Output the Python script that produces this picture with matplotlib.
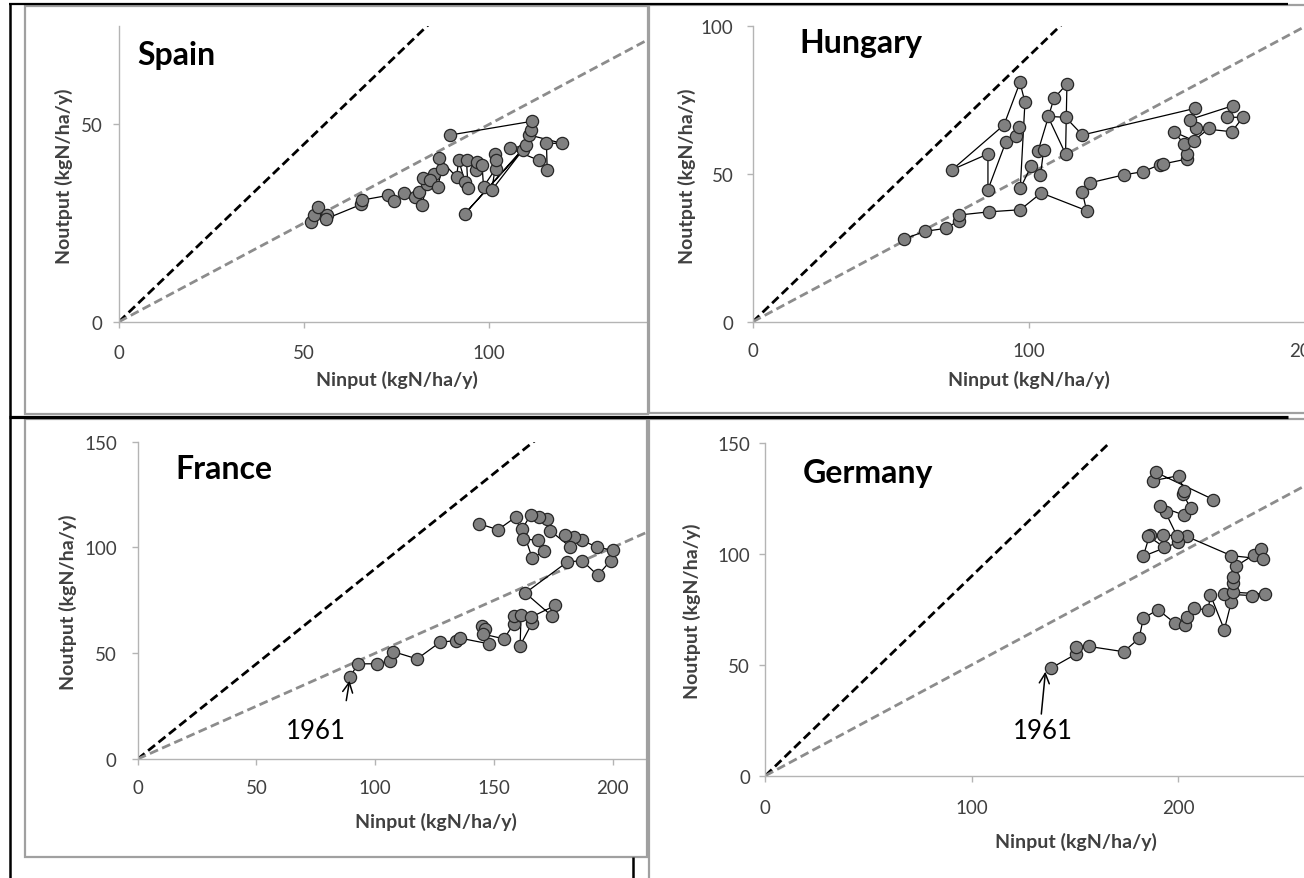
import matplotlib
matplotlib.use('Agg')
import matplotlib.pyplot as plt
from matplotlib.lines import Line2D
from matplotlib.patches import Rectangle

# N input vs N output trajectories, 1961 onwards
spain_x = [52.0, 52.6, 53.9, 56.3, 56.0, 65.4, 65.6, 72.7, 74.2, 77.0, 79.9, 81.0, 81.8,
           83.3, 82.1, 85.0, 83.9, 86.1, 87.3, 86.4, 91.2, 91.8, 93.5, 94.3, 93.9, 96.4,
           96.6, 98.1, 98.5, 101.8, 101.5, 102.0, 100.7, 109.1, 93.5, 110.0, 105.7, 113.4,
           115.7, 115.5, 119.7, 110.9, 111.4, 111.7, 89.5]
spain_y = [25.3, 27.0, 29.0, 27.1, 26.1, 29.7, 30.8, 32.0, 30.5, 32.5, 31.6, 32.9, 29.5,
           35.0, 36.3, 37.5, 35.8, 34.2, 38.8, 41.4, 36.7, 40.9, 35.4, 33.9, 40.9, 38.4,
           40.5, 39.7, 34.2, 38.8, 42.6, 40.9, 33.3, 43.5, 27.4, 44.7, 43.9, 40.9,
           38.4, 45.2, 45.2, 47.3, 48.6, 50.8, 47.3]

hungary_x = [54.7, 62.3, 69.9, 74.5, 74.5, 85.6, 96.8, 104.4, 120.8, 119.3, 122.0, 134.2,
             141.3, 147.4, 148.5, 157.3, 157.0, 156.1, 152.4, 159.6, 165.2, 160.6, 173.4,
             177.4, 171.7, 173.7, 158.1, 160.0, 119.3, 113.2, 106.8, 113.2, 113.7, 109.0,
             103.3, 105.3, 104.1, 100.8, 96.8, 98.5, 96.7, 90.9, 72.2, 85.1, 85.1, 91.6,
             95.3, 96.2]
hungary_y = [28.0, 30.6, 31.6, 34.2, 36.1, 37.2, 37.9, 43.6, 37.6, 43.8, 47.0, 49.7,
             50.8, 53.2, 53.4, 55.1, 56.8, 60.2, 64.3, 61.3, 65.5, 65.6, 64.3,
             69.2, 69.2, 73.1, 68.4, 72.2, 63.2, 69.2, 69.5, 56.8, 80.5, 75.6,
             57.9, 58.2, 49.7, 52.8, 45.1, 74.3, 81.0, 66.6, 51.5, 56.8, 44.7, 60.9,
             62.8, 65.8]

france_x = [89.2, 92.8, 100.9, 106.3, 107.5, 117.6, 127.3, 134.1, 135.9, 148.1, 144.8,
            146.3, 145.2, 154.2, 158.3, 158.3, 161.4, 161.0, 166.1, 165.5, 175.8, 174.5,
            163.2, 180.8, 187.1, 193.7, 199.1, 200.2, 193.4, 187.1, 183.5, 179.9, 182.2,
            173.6, 172.2, 169.1, 165.5, 161.9, 166.1, 170.9, 168.6, 162.4, 159.2, 151.7,
            143.7]
france_y = [38.6, 45.0, 45.0, 46.5, 50.8, 47.3, 55.2, 56.0, 57.1, 54.4, 63.1,
            61.5, 59.1, 56.8, 63.9, 67.8, 68.3, 53.6, 64.4, 67.0, 72.6, 67.5,
            78.5, 93.1, 93.8, 86.8, 93.8, 98.6, 100.2, 103.3, 104.9, 105.7, 100.2,
            108.0, 113.6, 114.4, 115.5, 108.8, 95.0, 98.1, 103.3, 104.1, 114.4, 108.4,
            111.2]

germany_x = [138.4, 150.6, 150.6, 156.7, 173.6, 181.1, 183.1, 190.2, 198.4, 203.5, 204.5,
             207.5, 214.6, 215.6, 222.4, 225.8, 222.4, 236.0, 242.1, 226.8, 226.8, 226.8,
             227.9, 236.6, 240.1, 241.1, 225.8, 204.1, 200.0, 183.1, 186.2, 185.2, 193.3,
             192.7, 199.4, 193.9, 191.2, 202.8, 206.1, 202.4, 202.8, 200.4, 187.8, 189.2,
             217.1]
germany_y = [48.5, 54.9, 57.9, 58.3, 55.9, 61.9, 70.9, 74.9, 68.8, 67.9, 71.4,
             75.5, 74.7, 81.6, 65.8, 78.5, 81.9, 81.2, 81.9, 82.7, 86.9, 89.4,
             94.4, 99.5, 102.2, 97.7, 99.2, 107.9, 105.2, 98.9, 108.5, 108.2, 103.0,
             108.5, 108.2, 118.7, 121.4, 117.5, 120.5, 127.0, 128.5, 135.3, 133.0, 136.8,
             124.5]

# reference lines: output = 0.9 * input and output = 0.5 * input
ref_x = [0, 300]
ref_slopes = [0.9, 0.5]

W, H = 1304, 879
plt.rcParams['font.family'] = ['Lato', 'DejaVu Sans']

fig = plt.figure(figsize=(W / 100, H / 100), dpi=100)


def fx(x):
    return x / W


def fy(y):
    return 1 - y / H


def hline(y, x0, x1, lw, color='black'):
    fig.add_artist(Line2D([fx(x0), fx(x1)], [fy(y), fy(y)], transform=fig.transFigure,
                          color=color, lw=lw, solid_capstyle='butt'))


def vline(x, y0, y1, lw, color='black'):
    fig.add_artist(Line2D([fx(x), fx(x)], [fy(y0), fy(y1)], transform=fig.transFigure,
                          color=color, lw=lw, solid_capstyle='butt'))


def frame(l, t, r, b):
    fig.add_artist(Rectangle((fx(l), fy(b)), fx(r) - fx(l), fy(t) - fy(b),
                             transform=fig.transFigure, fill=False,
                             edgecolor='#a0a0a0', lw=1.6))


# grey chart frames
frame(25, 7, 648, 415)
frame(649, 6, 1320, 414)
frame(25, 420, 647, 858)
frame(649, 420, 1320, 900)

# black table rules
hline(5, 9, 1288, 1.6)
vline(10, 5, 879, 1.8)
hline(418, 9, 1288, 2.3)
vline(633, 858, 879, 1.8)

axis_col = '#b4b4b4'
text_col = '#404040'


def panel(l, t, r, b, xs, ys, xlim, ylim, xticks, yticks, xpad, ypad):
    ax = fig.add_axes([fx(l), fy(b), fx(r) - fx(l), fy(t) - fy(b)])
    ax.patch.set_visible(False)
    for side in ['top', 'right']:
        ax.spines[side].set_visible(False)
    for side in ['left', 'bottom']:
        ax.spines[side].set_color(axis_col)
        ax.spines[side].set_linewidth(1.0)
    ax.plot(ref_x, [ref_slopes[0] * v for v in ref_x], color='black', lw=2.0,
            dashes=(3.2, 1.6), zorder=2)
    ax.plot(ref_x, [ref_slopes[1] * v for v in ref_x], color='#8c8c8c', lw=2.0,
            dashes=(3.2, 1.6), zorder=2)
    ax.plot(xs, ys, color='black', lw=0.9, marker='o', markersize=8.8,
            markerfacecolor='#808080', markeredgecolor='#262626', markeredgewidth=0.9,
            zorder=3)
    ax.set_xlim(*xlim)
    ax.set_ylim(*ylim)
    ax.set_xticks(xticks)
    ax.set_yticks(yticks)
    ax.tick_params(axis='x', length=4, width=1, color=axis_col, labelsize=13.5,
                   labelcolor=text_col, pad=xpad)
    ax.tick_params(axis='y', length=4, width=1, color=axis_col, labelsize=13.5,
                   labelcolor=text_col, pad=ypad)
    return ax


ax1 = panel(119, 26.7, 646, 322.7, spain_x, spain_y, (0, 142.4), (0, 75),
            [0, 50, 100], [0, 50], 12, 8)
ax2 = panel(752.9, 27.3, 1305.3, 322.7, hungary_x, hungary_y, (0, 200), (0, 100),
            [0, 100, 200], [0, 50, 100], 10.5, 10)
ax3 = panel(137.7, 442.7, 646, 760, france_x, france_y, (0, 214), (0, 150),
            [0, 50, 100, 150, 200], [0, 50, 100, 150], 10.5, 11)
ax4 = panel(765.4, 444, 1304, 776.7, germany_x, germany_y, (0, 261), (0, 150),
            [0, 100, 200], [0, 50, 100, 150], 12.5, 7)

# country titles
for name, x, y in [('Spain', 137, 65), ('Hungary', 799, 53),
                   ('France', 175, 479), ('Germany', 803, 483)]:
    fig.text(fx(x), fy(y), name, fontsize=23, fontweight='bold', ha='left',
             va='baseline', color='black')

# axis titles
for x, y in [(64, 176), (687, 176), (68, 602), (692, 611)]:
    fig.text(fx(x), fy(y), 'Noutput (kgN/ha/y)', rotation=90, fontsize=14,
             fontweight='bold', ha='center', va='center', color=text_col)
for x, y in [(397, 380), (1029, 380), (436, 822), (1076, 842)]:
    fig.text(fx(x), fy(y), 'Ninput (kgN/ha/y)', fontsize=14,
             fontweight='bold', ha='center', va='center', color=text_col)

# 1961 start-year markers
for ax, head, tail, txt in [(ax3, (89.2, 37.0), (87.8, 27.6), (74.9, 13.4)),
                            (ax4, (135.7, 46.9), (133.7, 27.8), (134.3, 20.3))]:
    ax.annotate('', xy=head, xytext=tail,
                arrowprops=dict(arrowstyle='->', lw=1.1, color='black',
                                mutation_scale=18, shrinkA=0, shrinkB=0), zorder=5)
    ax.text(txt[0], txt[1], '1961', fontsize=18.5, ha='center', va='center',
            color='black')

fig.savefig('out.png', dpi=100)
